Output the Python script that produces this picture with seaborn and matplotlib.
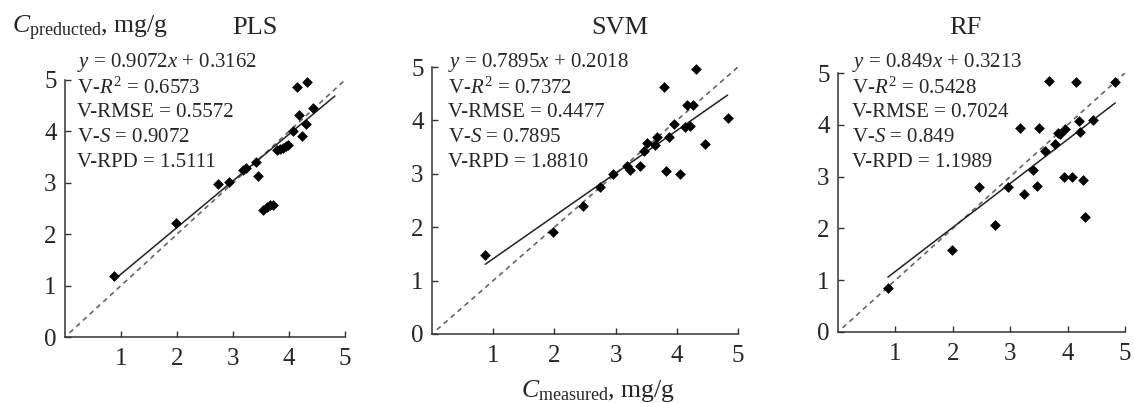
import numpy as np
import pandas as pd
import matplotlib
matplotlib.use('Agg')
import matplotlib.pyplot as plt
import seaborn as sns

# data (measured vs predicted, mg/g)
pls_measured = [0.88, 1.99, 2.74, 2.93, 3.17, 3.23, 3.41, 3.45, 3.53, 3.60, 3.66, 3.71,
                3.78, 3.84, 3.89, 3.95, 3.99, 4.07, 4.15, 4.18, 4.23, 4.30, 4.32, 4.43]
pls_predicted = [1.18, 2.21, 2.97, 3.02, 3.25, 3.28, 3.41, 3.13, 2.47, 2.53, 2.56, 2.56,
                 3.64, 3.65, 3.68, 3.72, 3.73, 4.01, 4.86, 4.31, 3.92, 4.14, 4.97, 4.45]

svm_measured = [0.87, 1.98, 2.47, 2.74, 2.96, 3.18, 3.24, 3.40, 3.47, 3.51, 3.64, 3.68,
                3.79, 3.82, 3.87, 3.95, 4.06, 4.14, 4.21, 4.17, 4.27, 4.32, 4.46, 4.84]
svm_predicted = [1.48, 1.91, 2.39, 2.75, 3.00, 3.15, 3.08, 3.15, 3.43, 3.57, 3.53, 3.68,
                 4.62, 3.06, 3.69, 3.94, 3.00, 3.87, 3.90, 4.29, 4.29, 4.97, 3.55, 4.04]

rf_measured = [0.87, 1.98, 2.46, 2.73, 2.96, 3.17, 3.24, 3.39, 3.46, 3.51, 3.61, 3.67, 3.78,
               3.83, 3.87, 3.94, 3.96, 4.08, 4.15, 4.19, 4.22, 4.27, 4.31, 4.44, 4.83]
rf_predicted = [0.85, 1.58, 2.79, 2.06, 2.79, 3.93, 2.66, 3.13, 2.81, 3.93, 3.50, 4.85, 3.63,
                3.85, 3.82, 3.00, 3.92, 2.99, 4.83, 4.08, 3.87, 2.94, 2.22, 4.10, 4.83]

models = ['PLS', 'SVM', 'RF']
measured = [pls_measured, svm_measured, rf_measured]
predicted = [pls_predicted, svm_predicted, rf_predicted]

# drawn regression lines (slope, intercept, x range) as they appear in the figure
line_slope = [0.9072, 0.80, 0.849]
line_intercept = [0.3162, 0.61, 0.3213]
line_xrange = [(0.88, 4.82), (0.87, 4.83), (0.87, 4.83)]

stats_text = [
    ['$y$ = 0.9072$x$ + 0.3162', 'V-$R^2$ = 0.6573', 'V-RMSE = 0.5572',
     'V-$S$ = 0.9072', 'V-RPD = 1.5111'],
    ['$y$ = 0.7895$x$ + 0.2018', 'V-$R^2$ = 0.7372', 'V-RMSE = 0.4477',
     'V-$S$ = 0.7895', 'V-RPD = 1.8810'],
    ['$y$ = 0.849$x$ + 0.3213', 'V-$R^2$ = 0.5428', 'V-RMSE = 0.7024',
     'V-$S$ = 0.849', 'V-RPD = 1.1989'],
]

sns.set_style('ticks')
plt.rcParams['font.family'] = ['Liberation Serif', 'DejaVu Serif']
plt.rcParams['mathtext.fontset'] = 'custom'
plt.rcParams['mathtext.rm'] = 'Liberation Serif'
plt.rcParams['mathtext.it'] = 'Liberation Serif:italic'

W, H = 1134, 403
fig = plt.figure(figsize=(W / 100, H / 100), dpi=100)

# axes boxes in pixels: (left, right, top(y=5), bottom(y=0))
boxes = [(65, 345, 80, 337), (432, 738, 67, 334), (838, 1125, 73, 332)]
text_left = [77, 448, 852]
title_x = [255, 620, 965]

for i, m in enumerate(models):
    l, r, t, b = boxes[i]
    ax = fig.add_axes([l / W, 1 - b / H, (r - l) / W, (b - t) / H])
    df = pd.DataFrame({'measured': measured[i], 'predicted': predicted[i]})

    x0 = np.array([0.08, 5.0])
    ax.plot(x0, x0, ls=(0, (3, 2.5)), color='#666666', lw=1.2, zorder=1)
    lx = np.array(line_xrange[i])
    ax.plot(lx, line_slope[i] * lx + line_intercept[i], color='#222222', lw=1.1, zorder=2)
    sns.scatterplot(data=df, x='measured', y='predicted', marker='D', s=30,
                    color='black', edgecolor='black', linewidth=0, ax=ax,
                    clip_on=False, zorder=3)

    ax.set_xlim(0, 5)
    ax.set_ylim(0, 5)
    ax.set_xticks([1, 2, 3, 4, 5])
    ax.set_yticks([0, 1, 2, 3, 4, 5])
    ax.set_xlabel('')
    ax.set_ylabel('')
    ax.tick_params(direction='in', length=4, width=1, labelsize=18, color='#333333')
    ax.tick_params(axis='x', pad=8)
    ax.tick_params(axis='y', pad=6)
    for s in ['top', 'right']:
        ax.spines[s].set_visible(False)
    for s in ['left', 'bottom']:
        ax.spines[s].set_linewidth(1.1)
        ax.spines[s].set_color('#333333')
    ax.set_facecolor('white')

    for k, line in enumerate(stats_text[i]):
        fig.text(text_left[i] / W, 1 - (63 + 24.8 * k) / H, line,
                 fontsize=15, va='center', ha='left')
    fig.text(title_x[i] / W, 1 - 28 / H, m, fontsize=19, ha='center', va='center')

fig.text(12 / W, 1 - 28 / H, r'$C_{\mathrm{preducted}}$, mg/g', fontsize=18.5,
         ha='left', va='center')
fig.text(598 / W, 1 - 391 / H, r'$C_{\mathrm{measured}}$, mg/g', fontsize=18.5,
         ha='center', va='center')

fig.savefig('out.png', dpi=100, facecolor='white')
